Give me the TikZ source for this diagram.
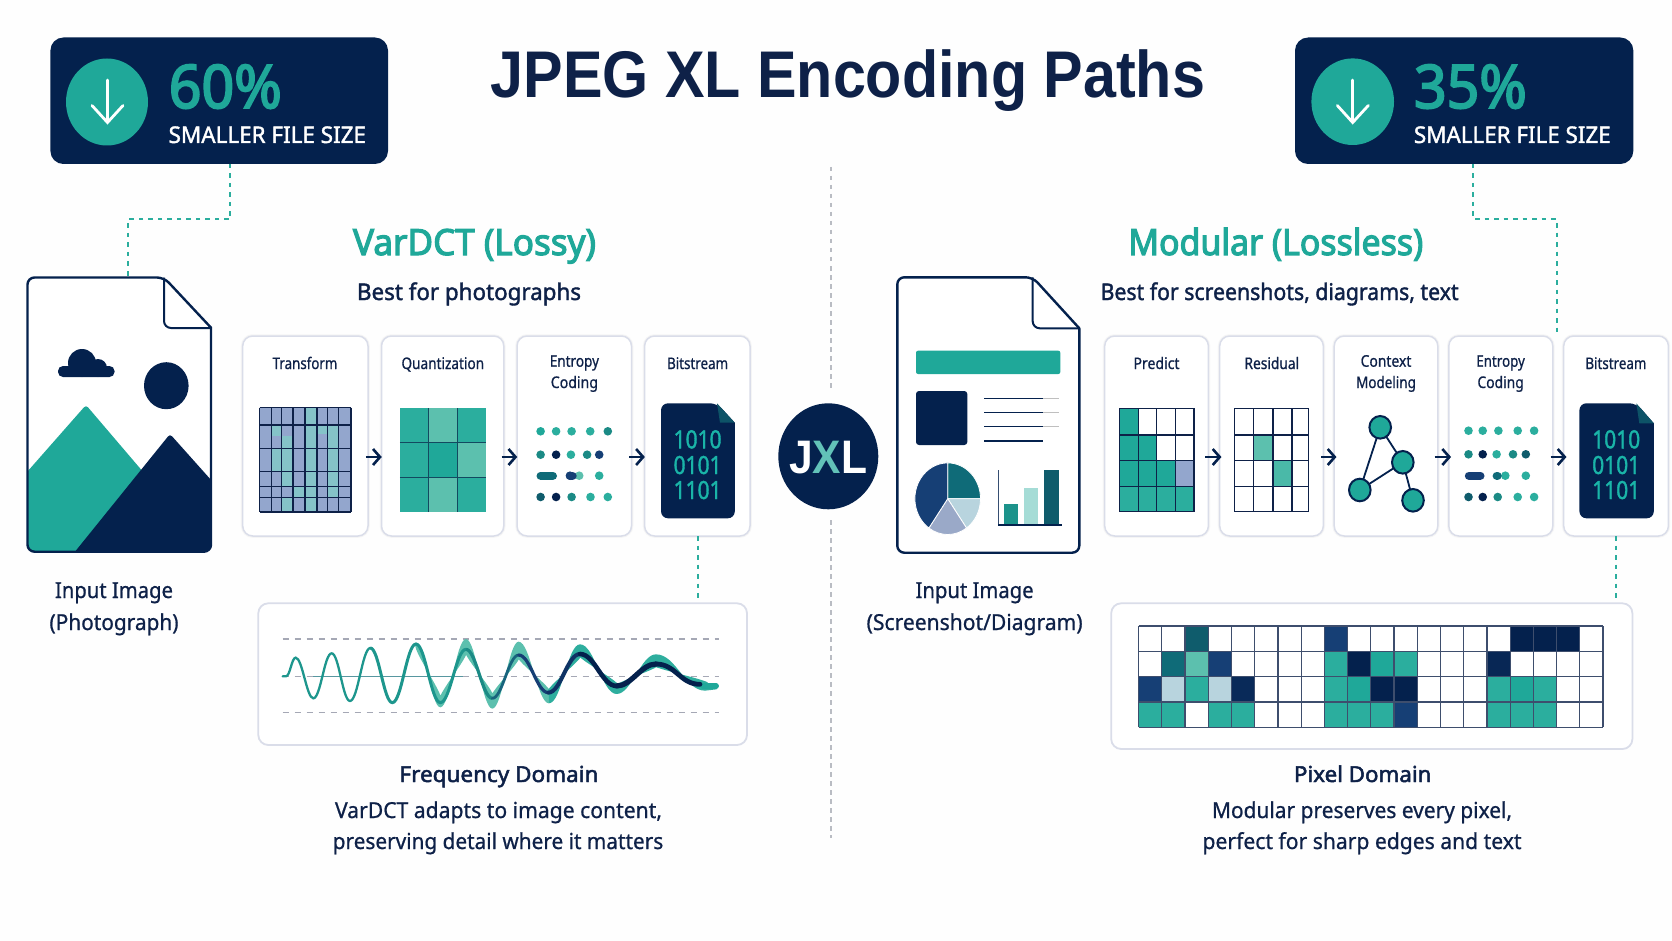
\documentclass[tikz,border=0pt]{standalone}
\usepackage{fontspec}
\usepackage{graphicx}
\usetikzlibrary{arrows.meta,fit}
\setmainfont{Noto Sans}
\newfontfamily\lblfont[FakeBold=0.8]{Noto Sans}
\newfontfamily\medfont[FakeBold=1.6]{Noto Sans}
\newfontfamily\semifont[FakeBold=3.2]{Noto Sans}
\newfontfamily\heavyfont[FakeBold=2.2]{Noto Sans}
\newfontfamily\titlefont{Liberation Sans}
\definecolor{navy}{HTML}{04214D}
\definecolor{ink}{HTML}{0E2148}
\definecolor{teal}{HTML}{1FA899}
\definecolor{tealB}{HTML}{2BAE9E}
\definecolor{tealL}{HTML}{5CC0AE}
\definecolor{tealD}{HTML}{0F6B78}
\definecolor{tealE}{HTML}{1B8A85}
\definecolor{tealF}{HTML}{0F5C6C}
\definecolor{blueM}{HTML}{163F75}
\definecolor{blueG}{HTML}{93A6CD}
\definecolor{blueT}{HTML}{85C3C8}
\definecolor{paleB}{HTML}{B8D4DE}
\definecolor{greyB}{HTML}{9AA9C8}
\definecolor{cardline}{HTML}{DADDE9}
\definecolor{guide}{HTML}{A5A8B5}
\definecolor{divcol}{HTML}{B9BCC3}
\definecolor{pagebg}{HTML}{FEFEFE}
\tikzset{
  cardbox/.style={draw=cardline,line width=1.5pt,fill=white,rounded corners=10pt,inner sep=0pt,
    preaction={draw=black!4,line width=3.5pt}},
  panelbox/.style={draw=cardline,line width=1.8pt,fill=white,rounded corners=10pt,inner sep=0pt},
  badgebox/.style={fill=navy,rounded corners=13pt,inner sep=0pt},
  conn/.style={draw=tealB,line width=2pt,dash pattern=on 4.5pt off 5pt},
  flow/.style={draw=navy,line width=2.6pt,-{Straight Barb[length=7pt,width=16pt,line width=2.6pt]}},
  gridln/.style={draw=ink,line width=1.5pt},
  thinln/.style={draw=ink,line width=1.2pt},
  guideln/.style={draw=guide,line width=1.1pt,dash pattern=on 6pt off 6pt},
  docln/.style={draw=navy,line width=2.4pt,line join=round},
  downarrow/.style={draw=white,line width=2.8pt,line cap=round,line join=miter},
  graphnode/.style={fill=teal,draw=navy,line width=2pt},
  graphedge/.style={draw=navy,line width=1.8pt},
  pill/.style={line width=8.4pt,line cap=round},
}
\newcommand\Tx[8]{\node[anchor=base,inner sep=0pt,text=#6] (#1) at (#2,#3) {\fontsize{#5pt}{#5pt}#7\selectfont\resizebox{#4pt}{\height}{#8}};}
\newcommand\dotc[3]{\fill[#3] (#1,#2) circle[radius=4.3];}
\newcommand\DocPath[6]{[rounded corners=7pt] (#2,#6) -- (#2,#4) -- (#1,#4) -- (#1,#3) -- (#5,#3) [sharp corners] -- cycle}
\newcommand\bits[8]{%
  \fill[navy] \DocPath{#1}{#2}{#3}{#4}{#5}{#6};
  \fill[tealF!85!navy] (#5,#3) -- (#2,#6) -- (#5+3,#6) -- cycle;
  \Tx{#8a}{#7}{448.3}{48}{25}{teal!85!cyan}{\medfont}{1010}
  \Tx{#8b}{#7}{474}{48}{25}{teal!85!cyan}{\medfont}{0101}
  \Tx{#8c}{#7}{499}{48}{25}{teal!85!cyan}{\medfont}{1101}
}
\newcommand\wseg[3]{.. controls +(#1,0) and +(-#1,0) .. (#2,#3)}
\begin{document}
\begin{tikzpicture}[x=1pt,y=-1pt]
\useasboundingbox (0,0) rectangle (1672,941);
\fill[pagebg] (0,0) rectangle (1672,941);

% divider
\coordinate (divA) at (831,167);
\coordinate (divB) at (831,392);
\coordinate (divC) at (831,520);
\coordinate (divD) at (831,838);
\draw[divcol,line width=1.3pt,dash pattern=on 4.5pt off 4.5pt] (divA) -- (divB);
\draw[divcol,line width=1.3pt,dash pattern=on 4.5pt off 4.5pt] (divC) -- (divD);

% title
\Tx{title}{847.8}{97.5}{714.5}{66}{ink}{\titlefont\bfseries}{JPEG XL Encoding Paths}

% badges
\node[badgebox,fit={(50.4,37.5)(388,164)}] (badgeL) {};
\node[badgebox,fit={(1295,37.5)(1633.3,164)}] (badgeR) {};
\fill[teal] (107,102) ellipse [x radius=41,y radius=43.5];
\fill[teal] (1352.7,101.7) ellipse [x radius=41.3,y radius=43.3];
\draw[downarrow] (107.5,80) -- (107.5,122);
\draw[downarrow] (92,105.5) -- (107.5,122.5) -- (123,105.5);
\draw[downarrow] (1352.7,80) -- (1352.7,122);
\draw[downarrow] (1337.3,105.5) -- (1352.7,122.5) -- (1368.3,105.5);
\Tx{pctL}{225.3}{108}{113}{60}{teal}{\semifont}{60\%}
\Tx{pctR}{1470.4}{108}{112.7}{60}{teal}{\semifont}{35\%}
\Tx{subL}{267.3}{143}{197.4}{23}{white}{\medfont}{SMALLER FILE SIZE}
\Tx{subR}{1512.3}{143}{196.7}{23}{white}{\medfont}{SMALLER FILE SIZE}

% section headers
\Tx{headL}{474.5}{255}{243}{36}{teal}{\semifont}{VarDCT (Lossy)}
\Tx{headR}{1275.8}{255}{295}{36}{teal}{\semifont}{Modular (Lossless)}
\Tx{bestL}{469}{300}{224}{23}{ink}{\medfont}{Best for photographs}
\Tx{bestR}{1279.6}{300}{358}{23}{ink}{\medfont}{Best for screenshots, diagrams, text}

% left document
\begin{scope}
\clip \DocPath{27.5}{211}{277.5}{551.7}{164}{327.7};
\fill[white] (20,270) rectangle (220,560);
\fill[teal,rounded corners=3pt] (20,480) -- (86,405) -- (150,480) -- (85,560) -- (20,560) -- cycle;
\fill[navy,rounded corners=3pt] (75,551.7) -- (170,434) -- (220,490) -- (220,560) -- (70,560) -- cycle;
\end{scope}
\draw[docln] \DocPath{27.5}{211}{277.5}{551.7}{164}{327.7};
\draw[docln,line width=2pt,rounded corners=7pt] (164,277.5) -- (164,328) -- (211,328);
\fill[navy] (82,363) circle[radius=14];
\fill[navy] (98,368) circle[radius=9];
\fill[navy,rounded corners=5pt] (58,366) rectangle (114.5,377);
\fill[navy] (166.3,385.7) ellipse [x radius=22.3,y radius=23.5];
\coordinate (docLtop) at (128,277.5);
\Tx{inL1}{114}{598}{118}{22}{ink}{\lblfont}{Input Image}
\Tx{inL2}{114}{630}{129}{22}{ink}{\lblfont}{(Photograph)}

% connector to left document
\coordinate (blOut) at (230,164);
\coordinate (blBend) at (230,219.5);
\draw[conn] (blOut) -- (blBend) -- (blBend -| docLtop) -- (docLtop);

% left cards
\node[cardbox,fit={(242.7,336)(368,536)}] (cTr) {};
\node[cardbox,fit={(381.5,336)(503.8,536)}] (cQu) {};
\node[cardbox,fit={(517,336)(631.5,536)}] (cEn) {};
\node[cardbox,fit={(644.6,336)(750,536)}] (cBi) {};
\Tx{lTr}{305}{369}{64.7}{16}{ink}{\lblfont}{Transform}
\Tx{lQu}{442.8}{369}{82.6}{16}{ink}{\lblfont}{Quantization}
\Tx{lEn1}{574.4}{366.7}{49.2}{16}{ink}{\lblfont}{Entropy}
\Tx{lEn2}{574.4}{388}{47.2}{16}{ink}{\lblfont}{Coding}
\Tx{lBi}{697.6}{369}{61}{16}{ink}{\lblfont}{Bitstream}

% transform grid
\fill[blueG] (259.6,407.7) rectangle (351.2,512);
\foreach \a/\b/\c/\d in {305/316.8/407.7/512,271.3/281.7/425/436,281.7/293/436/471.7,271.3/281.7/448.3/471.7,327.5/338.5/425/497.3,316.8/327.5/425/434,293/316.8/486.7/497.3,281.7/293/497.3/512,281.7/293/471.7/486.7}
  \fill[blueT] (\a,\c) rectangle (\b,\d);
\foreach \x in {259.6,271.3,281.7,293,305,316.8,327.5,338.5,351.2}
  \draw[gridln] (\x,407.7) -- (\x,512);
\foreach \y in {407.7,425,448.3,471.7,486.7,497.3,512}
  \draw[gridln] (259.6,\y) -- (351.2,\y);

% quantization grid
\foreach \a/\b/\c/\d/\k in {399.8/428.4/408.3/442/tealB,428.4/457.4/408.3/442/tealL,457.4/485.9/408.3/442/tealB,
  399.8/428.4/442/477.7/tealB,428.4/457.4/442/477.7/teal,457.4/485.9/442/477.7/tealL,
  399.8/428.4/477.7/511.7/tealB,428.4/457.4/477.7/511.7/tealL,457.4/485.9/477.7/511.7/tealB}
  \fill[\k] (\a,\c) rectangle (\b,\d);
\draw[thinln,ink!70!teal,line width=1pt] (428.4,408.3) -- (428.4,511.7);
\draw[thinln,ink!70!teal,line width=1pt] (457.4,408.3) -- (457.4,511.7);
\draw[thinln,ink!70!teal,line width=1pt] (399.8,442) -- (485.9,442);
\draw[thinln,ink!70!teal,line width=1pt] (399.8,477.7) -- (485.9,477.7);

% entropy dots left
\dotc{540.6}{431.3}{teal}\dotc{556.1}{431.3}{tealB}\dotc{571.6}{431.3}{tealB}\dotc{590.2}{431.3}{tealB}\dotc{607.8}{431.3}{tealE}
\dotc{540.6}{454.7}{tealE}\dotc{556.1}{454.7}{navy}\dotc{570.9}{454.7}{tealB}\dotc{587.1}{454.7}{tealE}\dotc{599.2}{454.7}{blueM}
\draw[pill,tealD] (540.7,475.7) -- (552.8,475.7);
\dotc{579.2}{475.7}{tealL}\fill[blueM] (570,475.7) circle[radius=4.3];\draw[pill,blueM] (570,475.7) -- (572.5,475.7);
\dotc{599.2}{475.7}{tealB}
\dotc{540.6}{497}{tealF}\dotc{556.1}{497}{navy}\dotc{571.6}{497}{tealE}\dotc{590.5}{497}{tealB}\dotc{607.8}{497}{tealB}

\bits{661}{734.8}{403.3}{518.3}{717}{422.7}{697.6}{dl}

% flow arrows left
\coordinate (flowY) at (0,457);
\draw[flow,shorten <=-3pt,shorten >=-1pt] (cTr.east |- flowY) -- (cQu.west |- flowY);
\draw[flow,shorten <=-3pt,shorten >=-1pt] (cQu.east |- flowY) -- (cEn.west |- flowY);
\draw[flow,shorten <=-3pt,shorten >=-1pt] (cEn.east |- flowY) -- (cBi.west |- flowY);

% frequency panel
\node[panelbox,fit={(258.3,603.3)(747,745)}] (fp) {};
\coordinate (biOutL) at (698,536);
\draw[conn] (biOutL) -- (biOutL |- fp.north);
\begin{scope}[shift={(250,590)},x=0.3333pt,y=-0.3333pt]
\draw[guideln] (98,147) -- (1407,147);
\draw[guideln] (98,259) -- (1407,259);
\draw[guideln] (98,368) -- (1407,368);
\draw[tealD!70!white,line width=1.2pt] (190,259) -- (640,259);
% envelope
\fill[tealL] (500,162) \wseg{28}{571}{352} \wseg{30}{648}{147} \wseg{30}{727}{356} \wseg{30}{806}{155} \wseg{35}{897}{340}
   -- (897,310) \wseg{35}{806}{195} \wseg{30}{727}{325} \wseg{30}{648}{178} \wseg{30}{571}{335} \wseg{28}{500}{162} -- cycle;
\fill[teal!75!tealL] (897,340) \wseg{38}{990}{163} \wseg{45}{1100}{312} \wseg{45}{1218}{193} \wseg{60}{1365}{302} -- (1400,298) -- (1400,280) -- (1365,280)
   \wseg{60}{1218}{225} \wseg{45}{1100}{290} \wseg{45}{990}{190} \wseg{38}{897}{310} -- cycle;
\draw[teal,line width=6pt,line cap=round] (1360,288) -- (1398,288);
% core wave
\draw[tealE!60!teal,line width=2.3pt,line cap=round] (98,259) -- (108,259) \wseg{12}{137}{203} \wseg{20}{190}{325} \wseg{22}{245}{190} \wseg{22}{300}{333} \wseg{24}{361}{174};
\draw[tealE!60!teal,line width=3pt,line cap=round] (361,174) \wseg{26}{427}{338} \wseg{28}{498}{162} \wseg{28}{571}{338} \wseg{30}{648}{178};
\draw[tealE,line width=3.2pt] (648,178) \wseg{30}{727}{325};
\draw[tealE!50!blueM,line width=2.8pt,line cap=round] (727,325) \wseg{30}{806}{195};
\draw[blueM,line width=3.2pt,line cap=round] (806,195) \wseg{35}{895}{308};
\draw[blueM!60!navy,line width=4pt,line cap=round] (895,308) \wseg{38}{990}{192};
\draw[navy,line width=4.6pt,line cap=round] (990,192) \wseg{45}{1100}{288};
\draw[navy,line width=5.2pt,line cap=round] (1100,288) \wseg{45}{1218}{222};
\draw[navy,line width=4.8pt,line cap=round] (1218,222) \wseg{60}{1350}{283};
\end{scope}
\Tx{fd}{499}{782}{199}{22}{ink}{\heavyfont}{Frequency Domain}
\Tx{fd1}{498.5}{818}{327}{22}{ink}{\lblfont}{VarDCT adapts to image content,}
\Tx{fd2}{498}{849}{330.5}{22}{ink}{\lblfont}{preserving detail where it matters}

% JXL badge
\fill[navy] (828.3,456.3) ellipse [x radius=50,y radius=53];
\Tx{jxl}{828}{473.3}{78}{47}{white}{\titlefont\bfseries}{J{\color{teal!70!white}X}L}

% right document
\draw[docln,fill=white] \DocPath{897.3}{1079.3}{277.3}{552.7}{1032.7}{328.3};
\draw[docln,line width=2pt,rounded corners=7pt] (1032.7,277.3) -- (1032.7,328.3) -- (1079.3,328.3);
\fill[teal,rounded corners=2pt] (916,350.7) rectangle (1060.3,374);
\fill[navy,rounded corners=3pt] (916,391) rectangle (967.3,445);
\foreach \y in {398.3,412.3,426.3}{
  \draw[black!25,line width=1.2pt] (1043,\y) -- (1059.3,\y);
  \draw[navy,line width=1.4pt] (984.3,\y) -- (1043,\y);
}
\draw[navy,line width=1.4pt] (984.3,441) -- (1043,441);
\foreach \a/\b/\k in {-90/0/tealD,0/55/paleB,55/125/greyB,125/270/blueM}
  \filldraw[fill=\k,draw=white,line width=0.8pt] (947.7,498.7) -- +(\a:32.8 and 35.8) arc[start angle=\a,end angle=\b,x radius=32.8,y radius=35.8] -- cycle;
\fill[tealE!70!teal] (1004,504) rectangle (1017.7,525);
\fill[teal!40!white] (1023.7,488.3) rectangle (1038,525);
\fill[tealF] (1044.3,470) rectangle (1058.7,525);
\draw[navy!80!white,line width=1.1pt] (998.3,470) -- (998.3,525);
\draw[navy,line width=1.4pt] (998.3,525) -- (1062.3,525);
\Tx{inR1}{974.6}{598}{118}{22}{ink}{\lblfont}{Input Image}
\Tx{inR2}{974.6}{630}{216}{22}{ink}{\lblfont}{(Screenshot/Diagram)}

% right cards
\node[cardbox,fit={(1104.7,336)(1208.4,536)}] (cPr) {};
\node[cardbox,fit={(1219.7,336)(1323.3,536)}] (cRe) {};
\node[cardbox,fit={(1334.2,336)(1437.8,536)}] (cCo) {};
\node[cardbox,fit={(1448.8,336)(1552.8,536)}] (cEr) {};
\node[cardbox,fit={(1563.7,336)(1668.4,536)}] (cBr) {};
\Tx{lPr}{1156.5}{369}{46}{16}{ink}{\lblfont}{Predict}
\Tx{lRe}{1271.8}{369}{54.7}{16}{ink}{\lblfont}{Residual}
\Tx{lCo1}{1386}{366.7}{50.7}{16}{ink}{\lblfont}{Context}
\Tx{lCo2}{1386}{388}{59.8}{16}{ink}{\lblfont}{Modeling}
\Tx{lEr1}{1500.6}{366.7}{48.5}{16}{ink}{\lblfont}{Entropy}
\Tx{lEr2}{1500.6}{388}{46.3}{16}{ink}{\lblfont}{Coding}
\Tx{lBr}{1615.9}{369}{61}{16}{ink}{\lblfont}{Bitstream}

% connector to right cards
\coordinate (brOut) at (1473.3,164);
\coordinate (brBend) at (1473.3,219.3);
\coordinate (brIn) at (1556.7,335);
\draw[conn] (brOut) -- (brBend) -- (brBend -| brIn) -- (brIn);

% predict grid
\foreach \a/\b/\c/\d/\k in {1119.7/1138.3/408.3/435/teal,
  1119.7/1156.5/435/460.7/teal,
  1119.7/1175.5/460.7/486.7/teal,1175.5/1193.8/460.7/486.7/blueG,
  1119.7/1193.8/486.7/511.7/tealB}
  \fill[\k] (\a,\c) rectangle (\b,\d);
\foreach \x in {1119.7,1138.3,1156.5,1175.5,1193.8}
  \draw[gridln] (\x,408.3) -- (\x,511.7);
\foreach \y in {408.3,435,460.7,486.7,511.7}
  \draw[gridln] (1119.7,\y) -- (1193.8,\y);

% residual grid
\fill[tealL] (1253.6,435) rectangle (1272.9,460.7);
\fill[tealL!70!teal] (1272.9,460.7) rectangle (1291.9,486.7);
\foreach \x in {1234.3,1253.6,1272.9,1291.9,1308.7}
  \draw[gridln] (\x,408.3) -- (\x,511.7);
\foreach \y in {408.3,435,460.7,486.7,511.7}
  \draw[gridln] (1234.3,\y) -- (1308.7,\y);

% context graph
\coordinate (gA) at (1380.2,427.3);
\coordinate (gB) at (1402.8,462.3);
\coordinate (gC) at (1359.8,490);
\coordinate (gD) at (1413,500.3);
\draw[graphedge] (gA) -- (gB) -- (gC) -- (gA);
\draw[graphedge] (gB) -- (gD);
\foreach \n in {gA,gB,gC,gD}
  \filldraw[graphnode] (\n) ellipse [x radius=10.8,y radius=11.3];

% entropy dots right
\dotc{1468.5}{430.7}{tealB}\dotc{1482.7}{430.7}{tealB}\dotc{1498.4}{430.7}{tealB}\dotc{1517.7}{430.7}{tealB}\dotc{1534.1}{430.7}{tealB}
\dotc{1468.5}{454.3}{tealE}\dotc{1482.7}{454.3}{navy}\dotc{1496.6}{454.3}{tealB}\dotc{1513}{454.3}{tealE}\dotc{1525.8}{454.3}{tealF}
\draw[pill,blueM] (1469,475.7) -- (1480.3,475.7);
\dotc{1505.3}{475.7}{tealB}\draw[pill,tealD] (1496.8,475.7) -- (1497.5,475.7);
\dotc{1525.8}{475.7}{tealB}
\dotc{1468.5}{497}{tealF}\dotc{1482.7}{497}{navy}\dotc{1497.7}{497}{tealE}\dotc{1517.7}{497}{tealB}\dotc{1534.1}{497}{tealB}

\bits{1579.4}{1653.8}{403.3}{518.3}{1636.3}{423.3}{1616.2}{dr}

% flow arrows right
\draw[flow,shorten <=-4pt,shorten >=-2.5pt] (cPr.east |- flowY) -- (cRe.west |- flowY);
\draw[flow,shorten <=-3pt,shorten >=-3pt] (cRe.east |- flowY) -- (cCo.west |- flowY);
\draw[flow,shorten <=-4pt,shorten >=-3pt] (cCo.east |- flowY) -- (cEr.west |- flowY);
\draw[flow,shorten <=-3pt,shorten >=-3.5pt] (cEr.east |- flowY) -- (cBr.west |- flowY);

% pixel panel
\node[panelbox,fit={(1111.2,603.3)(1632.4,749)}] (pp) {};
\coordinate (biOutR) at (1616.2,536);
\draw[conn] (biOutR) -- (biOutR |- pp.north);
\foreach \r/\c/\k in {1/3/tealF,1/9/blueM,1/17/navy,1/18/navy,1/19/navy,
  2/2/tealD,2/3/tealL,2/4/blueM,2/9/tealB,2/10/navy,2/11/teal,2/12/tealB,2/16/navy!80!blueM,
  3/1/blueM,3/2/paleB,3/3/tealB,3/4/paleB,3/5/navy!70!blueM,3/9/tealB,3/10/teal,3/11/navy,3/12/navy,3/16/tealB,3/17/teal,3/18/tealB,
  4/1/tealB,4/2/tealB,4/4/tealB,4/5/tealB,4/9/tealB,4/10/tealB,4/11/tealB,4/12/blueM,4/16/tealB,4/17/tealB,4/18/tealB}
  \fill[\k] ({1138.6+(\c-1)*23.22},{626+(\r-1)*25.32}) rectangle +(23.22,25.32);
\foreach \i in {0,...,20}
  \draw[thinln,ink!80!white] ({1138.6+\i*23.22},626) -- ({1138.6+\i*23.22},727.3);
\foreach \i in {0,...,4}
  \draw[thinln,ink!80!white] (1138.6,{626+\i*25.32}) -- (1603,{626+\i*25.32});
\Tx{pd}{1362.7}{782}{137.5}{22}{ink}{\heavyfont}{Pixel Domain}
\Tx{pd1}{1362}{818}{300}{22}{ink}{\lblfont}{Modular preserves every pixel,}
\Tx{pd2}{1362}{849}{319}{22}{ink}{\lblfont}{perfect for sharp edges and text}
\end{tikzpicture}
\end{document}
